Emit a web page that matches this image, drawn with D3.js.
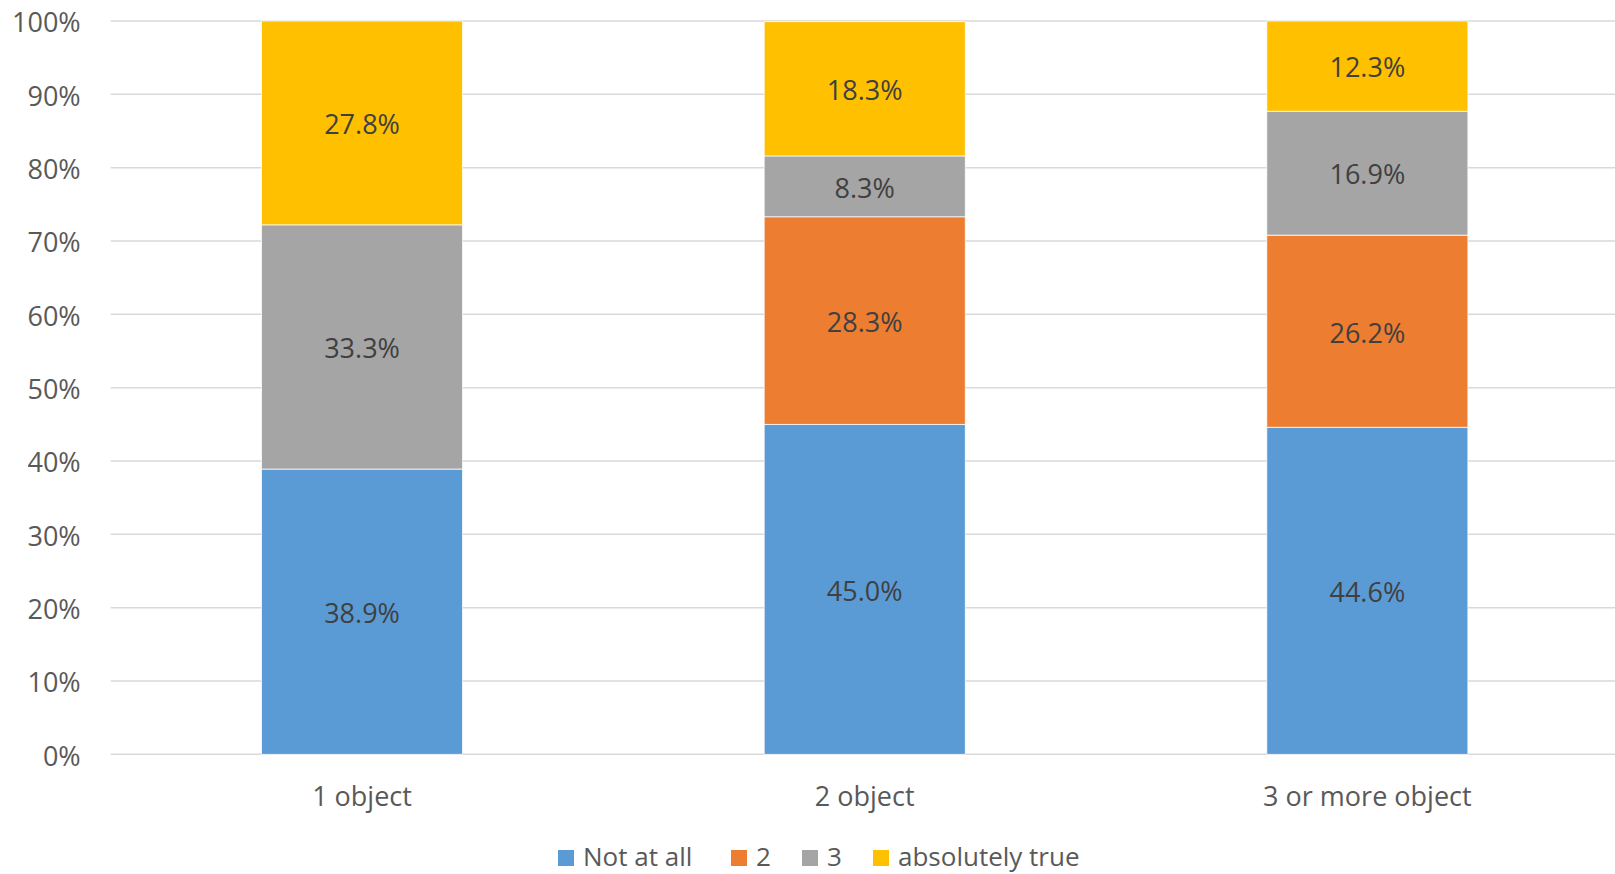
<!DOCTYPE html>
<html>
<head>
<meta charset="utf-8">
<script src="https://cdn.jsdelivr.net/npm/d3@7"></script>
<style>
  html, body { margin: 0; padding: 0; background: #fff; }
  svg { display: block; }
  text { font-family: "Open Sans", "Noto Sans", sans-serif; }
</style>
</head>
<body>
<svg id="chart" width="1615" height="874"></svg>
<script>
// Response categories (stack order, bottom to top)
const seriesNames = ["Not at all", "2", "3", "absolutely true"];
const seriesColors = ["#5B9BD5", "#ED7D31", "#A5A5A5", "#FFC000"];

// Groups on the x axis
const categories = ["1 object", "2 object", "3 or more object"];

// Share of answers per group, in percent
const notAtAll       = [38.9, 45.0, 44.6];
const two            = [0.0, 28.3, 26.2];
const three          = [33.3, 8.3, 16.9];
const absolutelyTrue = [27.8, 18.3, 12.3];

const yTicks = [0, 10, 20, 30, 40, 50, 60, 70, 80, 90, 100];

const seriesValues = [notAtAll, two, three, absolutelyTrue];
const rows = categories.map((c, i) => {
  const r = { category: c };
  seriesNames.forEach((s, k) => { r[s] = seriesValues[k][i]; });
  return r;
});

const svg = d3.select("#chart");
const plotLeft = 110.7, plotRight = 1618.7, plotTop = 21, plotBottom = 754.3;

const x = d3.scaleBand().domain(categories).range([plotLeft, plotRight])
  .paddingInner(0.6).paddingOuter(0.3);
const y = d3.scaleLinear().domain([0, 100]).range([plotBottom, plotTop]);

// Horizontal gridlines
svg.append("g").selectAll("line").data(yTicks).join("line")
  .attr("x1", plotLeft).attr("x2", 1615)
  .attr("y1", d => y(d)).attr("y2", d => y(d))
  .attr("stroke", "#D9D9D9").attr("stroke-width", 1.5);

// Y axis labels
const yAxis = d3.axisLeft(y).tickValues(yTicks).tickFormat(d => d + "%").tickSize(0).tickPadding(30);
const gy = svg.append("g").attr("transform", `translate(${plotLeft},0)`).call(yAxis);
gy.select(".domain").remove();
gy.selectAll("text").attr("font-size", 27).attr("fill", "#595959")
  .attr("dy", "0.4em")
  .attr("font-family", "'Open Sans', sans-serif");

// Stacked bars
const stack = d3.stack().keys(seriesNames)(rows);
const layers = svg.append("g").selectAll("g").data(stack).join("g")
  .attr("fill", (d, i) => seriesColors[i]);
layers.selectAll("rect").data(d => d).join("rect")
  .attr("x", d => x(d.data.category))
  .attr("width", x.bandwidth())
  .attr("y", d => y(d[1]))
  .attr("height", d => y(d[0]) - y(d[1]))
  .attr("stroke", "#fff").attr("stroke-width", 0.75);

// Value labels centred in each segment
svg.append("g").selectAll("g").data(stack).join("g")
  .selectAll("text").data(d => d.filter(p => p[1] - p[0] > 0)).join("text")
  .attr("x", d => x(d.data.category) + x.bandwidth() / 2)
  .attr("y", d => y((d[0] + d[1]) / 2))
  .attr("dy", "0.42em")
  .attr("text-anchor", "middle")
  .attr("font-size", 27).attr("fill", "#404040")
  .text(d => (d[1] - d[0]).toFixed(1) + "%");

// X axis category labels
const xAxis = d3.axisBottom(x).tickSize(0).tickPadding(33);
const gx = svg.append("g").attr("transform", `translate(0,${plotBottom})`).call(xAxis);
gx.select(".domain").remove();
gx.selectAll("text").attr("font-size", 27).attr("fill", "#595959")
  .attr("font-family", "'Open Sans', sans-serif");

// Legend
const legendX = [558, 731, 802, 873];
const legend = svg.append("g").selectAll("g").data(seriesNames).join("g")
  .attr("transform", (d, i) => `translate(${legendX[i]},850)`);
legend.append("rect").attr("width", 16).attr("height", 16)
  .attr("fill", (d, i) => seriesColors[i]);
legend.append("text").attr("x", 25).attr("y", 16)
  .attr("font-size", 26).attr("fill", "#595959").text(d => d);
</script>
</body>
</html>
